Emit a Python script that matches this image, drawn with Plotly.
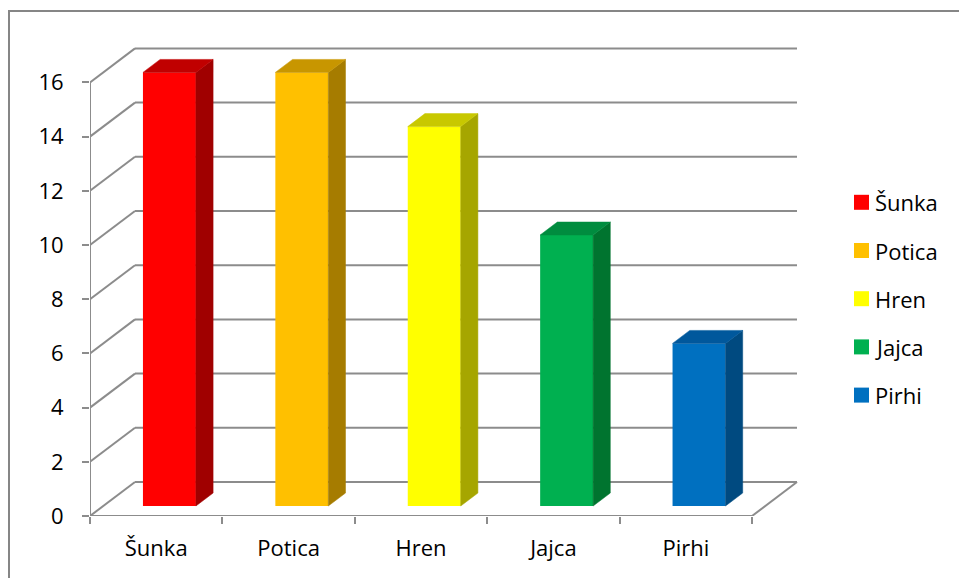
import plotly.graph_objects as go

# Easter basket survey
categories = ["Šunka", "Potica", "Hren", "Jajca", "Pirhi"]
values = [16, 16, 14, 10, 6]
y_ticks = [0, 2, 4, 6, 8, 10, 12, 14, 16]

front_colors = ["#FF0000", "#FFC000", "#FFFF00", "#00B050", "#0070C0"]
top_colors = ["#C00000", "#C89600", "#C8C800", "#008C3F", "#00589C"]
side_colors = ["#A00000", "#A67C00", "#A6A600", "#00742F", "#004A80"]

FONT = "Open Sans"
FONT_SIZE = 22
GRID = "#8C8C8C"

# layout geometry (pixels)
W, H = 959, 578
L, R, T, B = 90, 798, 40, 516
PX_PER_CAT = 132.4
PX_PER_UNIT = 27.1
DEPTH_X_PX, DEPTH_Y_PX = 45, 34

n = len(categories)
DX = DEPTH_X_PX / PX_PER_CAT          # depth offset in category units
DY = DEPTH_Y_PX / PX_PER_UNIT         # depth offset in value units
x_max = (R - L) / PX_PER_CAT
y_max = (B - T) / PX_PER_UNIT

# bar placement inside the depth of the box
F0, F1 = 0.294, 0.676
BAR_W = 0.4

fig = go.Figure()

# front faces
xs = [i + 0.5 + F0 * DX for i in range(n)]
fig.add_trace(go.Bar(
    x=xs, y=values, base=[F0 * DY] * n, width=BAR_W,
    marker=dict(color=front_colors, line=dict(width=0)),
    hoverinfo="skip", showlegend=False,
))

# top and side faces
dd_x = (F1 - F0) * DX
dd_y = (F1 - F0) * DY
for i, v in enumerate(values):
    xl = xs[i] - BAR_W / 2
    xr = xs[i] + BAR_W / 2
    base = F0 * DY
    top = base + v
    fig.add_trace(go.Scatter(
        x=[xr, xr, xr + dd_x, xr + dd_x, xr],
        y=[base, top, top + dd_y, base + dd_y, base],
        fill="toself", fillcolor=side_colors[i], mode="lines",
        line=dict(color=side_colors[i], width=0.5),
        hoverinfo="skip", showlegend=False,
    ))
    fig.add_trace(go.Scatter(
        x=[xl, xr, xr + dd_x, xl + dd_x, xl],
        y=[top, top, top + dd_y, top + dd_y, top],
        fill="toself", fillcolor=top_colors[i], mode="lines",
        line=dict(color=top_colors[i], width=0.5),
        hoverinfo="skip", showlegend=False,
    ))

shapes = []
line_style = dict(color=GRID, width=2)
# back wall gridlines and side wall diagonals
for v in y_ticks:
    shapes.append(dict(type="line", xref="x", yref="y", layer="below",
                       x0=DX, y0=v + DY, x1=n + DX, y1=v + DY, line=line_style))
    shapes.append(dict(type="line", xref="x", yref="y", layer="below",
                       x0=0, y0=v, x1=DX, y1=v + DY, line=line_style))
# front vertical axis
shapes.append(dict(type="line", xref="x", yref="y", layer="below",
                   x0=0, y0=0, x1=0, y1=max(y_ticks), line=line_style))
# floor front and right edges
shapes.append(dict(type="line", xref="x", yref="y", layer="below",
                   x0=0, y0=0, x1=n, y1=0, line=line_style))
shapes.append(dict(type="line", xref="x", yref="y", layer="below",
                   x0=n, y0=0, x1=n + DX, y1=DY, line=line_style))

# outer chart border
def px_to_paper(px, py):
    return (px - L) / (R - L), (B - py) / (B - T)

bx0, by0 = px_to_paper(9, 11)
bx1, by1 = px_to_paper(975, 600)
shapes.append(dict(type="rect", xref="paper", yref="paper",
                   x0=bx0, y0=by1, x1=bx1, y1=by0,
                   line=dict(color="#868686", width=2)))

# legend
annotations = []
LEG_SQ_X = 854
LEG_SQ = 15
LEG_Y0 = 202.3
LEG_STEP = 48.2
for i, cat in enumerate(categories):
    cy = LEG_Y0 + i * LEG_STEP
    sx0, sy0 = px_to_paper(LEG_SQ_X, cy + LEG_SQ / 2)
    sx1, sy1 = px_to_paper(LEG_SQ_X + LEG_SQ, cy - LEG_SQ / 2)
    shapes.append(dict(type="rect", xref="paper", yref="paper",
                       x0=sx0, y0=sy0, x1=sx1, y1=sy1,
                       fillcolor=front_colors[i], line=dict(width=0)))
    tx, ty = px_to_paper(LEG_SQ_X + LEG_SQ + 4, cy)
    annotations.append(dict(xref="paper", yref="paper", x=tx, y=ty,
                            text=cat, showarrow=False, xanchor="left",
                            yanchor="middle",
                            font=dict(family=FONT, size=FONT_SIZE, color="#000000")))

fig.update_layout(
    width=W, height=H, autosize=False,
    margin=dict(l=L, r=W - R, t=T, b=H - B, pad=0),
    paper_bgcolor="white", plot_bgcolor="white",
    barmode="overlay", showlegend=False,
    shapes=shapes, annotations=annotations,
    font=dict(family=FONT, size=FONT_SIZE, color="#000000"),
    xaxis=dict(
        range=[0, x_max], tickmode="array",
        tickvals=[i + 0.5 for i in range(n)], ticktext=categories,
        ticks="", showgrid=False, zeroline=False, showline=False,
        ticklabelstandoff=17,
        minor=dict(tickmode="array", tickvals=list(range(n + 1)),
                   ticks="outside", ticklen=7, tickwidth=2,
                   tickcolor=GRID, showgrid=False),
        fixedrange=True,
    ),
    yaxis=dict(
        range=[0, y_max], tickmode="array", tickvals=y_ticks,
        ticks="outside", ticklen=7, tickwidth=2, tickcolor=GRID,
        showgrid=False, zeroline=False, showline=False,
        ticklabelstandoff=14, fixedrange=True,
    ),
)

fig.write_html("out.html")
